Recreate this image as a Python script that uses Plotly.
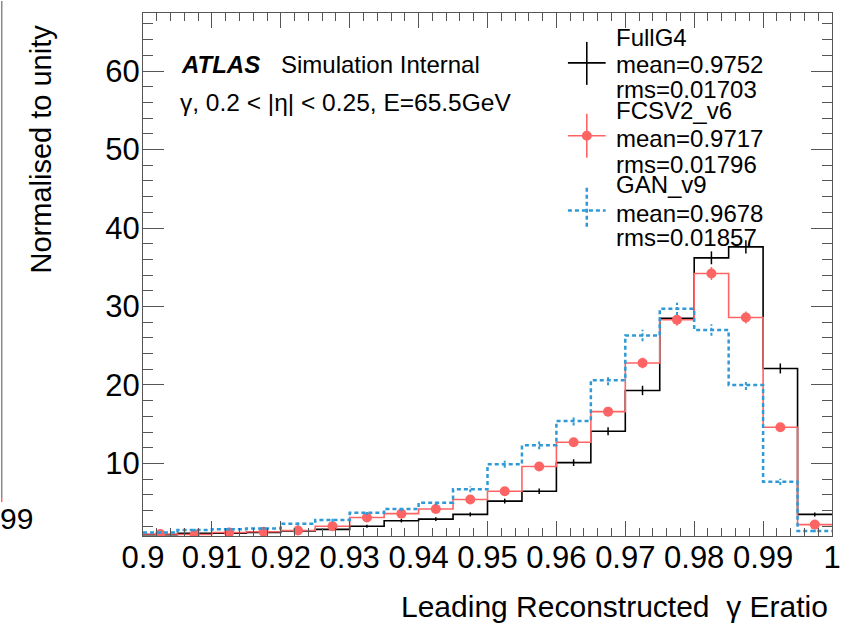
import plotly.graph_objects as go

# ---------------- data ----------------
bin_lo, bin_hi, n_bins = 0.9, 1.0, 20
x_tick_vals = [0.9, 0.91, 0.92, 0.93, 0.94, 0.95, 0.96, 0.97, 0.98, 0.99, 1.0]
x_tick_text = ["0.9", "0.91", "0.92", "0.93", "0.94", "0.95", "0.96", "0.97", "0.98", "0.99", "1"]
y_tick_vals = [10, 20, 30, 40, 50, 60]

fullg4_vals = [0.9, 1.1, 1.1, 1.2, 1.4, 1.6, 2.0, 2.7, 2.9, 3.5,
               5.2, 6.45, 10.1, 14.1, 19.3, 28.5, 36.2, 37.6, 22.1, 3.5]
fullg4_err = [0.12, 0.14, 0.14, 0.15, 0.16, 0.17, 0.19, 0.22, 0.23, 0.26,
              0.31, 0.35, 0.43, 0.5, 0.6, 0.72, 0.82, 0.84, 0.64, 0.26]

fcsv2_vals = [1.0, 0.95, 1.2, 1.3, 1.45, 2.0, 3.1, 3.6, 4.2, 5.4,
              6.45, 9.6, 12.7, 16.6, 22.8, 28.3, 34.2, 28.6, 14.6, 2.2]
fcsv2_err = [0.14, 0.14, 0.15, 0.16, 0.17, 0.2, 0.25, 0.27, 0.29, 0.33,
             0.36, 0.44, 0.5, 0.58, 0.68, 0.76, 0.83, 0.76, 0.54, 0.21]

gan_vals = [1.2, 1.5, 1.6, 1.7, 2.3, 2.8, 3.7, 4.2, 5.0, 6.7,
            9.9, 12.3, 15.4, 20.6, 26.3, 29.7, 27.0, 20.0, 7.65, 1.4]
gan_err = [0.15, 0.17, 0.18, 0.18, 0.21, 0.24, 0.27, 0.29, 0.32, 0.37,
           0.45, 0.5, 0.56, 0.65, 0.73, 0.78, 0.74, 0.64, 0.39, 0.17]

legend_entries = [
    ("FullG4", "mean=0.9752", "rms=0.01703"),
    ("FCSV2_v6", "mean=0.9717", "rms=0.01796"),
    ("GAN_v9", "mean=0.9678", "rms=0.01857"),
]

# ---------------- styles ----------------
BLACK = "#000000"
RED = "#ff6464"
BLUE = "#2f9ad6"
FONT = "Liberation Sans, Arial, Helvetica, sans-serif"
W, H = 853, 626
L, R, T, B = 143, 16, 12, 90
PW, PH = W - L - R, H - T - B


def px2x(px):
    return (px - L) / PW


def py2y(py):
    return (H - B - py) / PH


edges = [bin_lo + i * (bin_hi - bin_lo) / n_bins for i in range(n_bins + 1)]
centers = [(edges[i] + edges[i + 1]) / 2 for i in range(n_bins)]

fig = go.Figure()

# FullG4 (black)
fig.add_trace(go.Scatter(x=edges, y=fullg4_vals + [fullg4_vals[-1]], mode="lines",
                         line=dict(color=BLACK, width=1.6, shape="hv"), showlegend=False))
fig.add_trace(go.Scatter(x=centers, y=fullg4_vals, mode="markers",
                         marker=dict(size=1, color=BLACK),
                         error_y=dict(type="data", array=fullg4_err, color=BLACK, thickness=1.5, width=0),
                         showlegend=False))

# FCSV2 (red)
fig.add_trace(go.Scatter(x=edges, y=fcsv2_vals + [fcsv2_vals[-1]], mode="lines",
                         line=dict(color=RED, width=1.6, shape="hv"), showlegend=False))
fig.add_trace(go.Scatter(x=centers, y=fcsv2_vals, mode="markers",
                         marker=dict(size=10, color=RED),
                         error_y=dict(type="data", array=fcsv2_err, color=RED, thickness=1.5, width=0),
                         showlegend=False))

# GAN (blue dotted)
fig.add_trace(go.Scatter(x=edges, y=gan_vals + [gan_vals[-1]], mode="lines",
                         line=dict(color=BLUE, width=2.5, shape="hv", dash="4px,3px"), showlegend=False))
ex, ey = [], []
for c, v, e in zip(centers, gan_vals, gan_err):
    ex += [c, c, None]
    ey += [v - e, v + e, None]
fig.add_trace(go.Scatter(x=ex, y=ey, mode="lines",
                         line=dict(color=BLUE, width=2, dash="3px,2px"), showlegend=False))

shapes = []
annotations = []

# legend symbols
sym_rows = [(62, 41, 84, BLACK, None), (135, 113, 157, RED, None), (210, 187, 228, BLUE, "4px,3px")]
for cy, vy0, vy1, col, dash in sym_rows:
    lw = 2.5 if dash else 1.6
    ln = dict(color=col, width=lw, dash=dash) if dash else dict(color=col, width=lw)
    shapes.append(dict(type="line", xref="paper", yref="paper",
                       x0=px2x(571), x1=px2x(609), y0=py2y(cy), y1=py2y(cy), line=ln))
    shapes.append(dict(type="line", xref="paper", yref="paper",
                       x0=px2x(590), x1=px2x(590), y0=py2y(vy0), y1=py2y(vy1), line=ln))
shapes.append(dict(type="circle", xref="paper", yref="paper",
                   x0=px2x(585), x1=px2x(595), y0=py2y(130), y1=py2y(140),
                   fillcolor=RED, line=dict(color=RED, width=0)))

# legend texts
text_rows = [37, 64, 88.5, 109.5, 137.5, 164, 183.5, 212.5, 236.5]
flat_text = [t for entry in legend_entries for t in entry]
for txt, cy in zip(flat_text, text_rows):
    annotations.append(dict(text=txt, xref="paper", yref="paper", x=px2x(617), y=py2y(cy),
                            xanchor="left", yanchor="middle", showarrow=False,
                            font=dict(family=FONT, size=24, color="black")))

# ATLAS label
annotations.append(dict(text="<b><i>ATLAS</i></b>", xref="paper", yref="paper", x=px2x(179), y=py2y(64),
                        xanchor="left", yanchor="middle", showarrow=False,
                        font=dict(family=FONT, size=24, color="black")))
annotations.append(dict(text="Simulation Internal", xref="paper", yref="paper", x=px2x(280), y=py2y(64),
                        xanchor="left", yanchor="middle", showarrow=False,
                        font=dict(family=FONT, size=24, color="black")))
annotations.append(dict(text="γ, 0.2 < |η| < 0.25, E=65.5GeV", xref="paper", yref="paper",
                        x=px2x(178), y=py2y(102), xanchor="left", yanchor="middle", showarrow=False,
                        font=dict(family=FONT, size=24.5, color="black")))

# axis titles
annotations.append(dict(text="Leading Reconstructed  γ Eratio", xref="paper", yref="paper",
                        x=px2x(835), y=py2y(607), xanchor="right", yanchor="middle", showarrow=False,
                        font=dict(family=FONT, size=30, color="black")))
annotations.append(dict(text="Normalised to unity", xref="paper", yref="paper", textangle=-90,
                        x=px2x(40), y=py2y(148), xanchor="center", yanchor="middle", showarrow=False,
                        font=dict(family=FONT, size=29, color="black")))

# cropped neighbour-pad remnant on the far left
shapes.append(dict(type="line", xref="paper", yref="paper", x0=px2x(0.7), x1=px2x(0.7),
                   y0=py2y(0), y1=py2y(498), line=dict(color="#888888", width=1.5)))
shapes.append(dict(type="line", xref="paper", yref="paper", x0=px2x(0.7), x1=px2x(0.7),
                   y0=py2y(498), y1=py2y(502), line=dict(color=RED, width=1.5)))
annotations.append(dict(text="99", xref="paper", yref="paper", x=px2x(-3), y=py2y(518),
                        xanchor="left", yanchor="middle", showarrow=False,
                        font=dict(family=FONT, size=30, color="black")))

axis_common = dict(showgrid=False, zeroline=False, showline=True, linecolor="#555555", linewidth=1,
                   mirror="allticks", ticks="inside", tickcolor="#555555", tickwidth=1,
                   tickfont=dict(family=FONT, size=31, color="black"))

fig.update_layout(
    width=W, height=H,
    margin=dict(l=L, r=R, t=T, b=B),
    paper_bgcolor="white", plot_bgcolor="white",
    showlegend=False,
    shapes=shapes, annotations=annotations,
    xaxis=dict(range=[bin_lo, bin_hi], tickvals=x_tick_vals, ticktext=x_tick_text, ticklen=15,
               ticklabelstandoff=-6,
               minor=dict(dtick=0.002, ticks="inside", ticklen=8, tickcolor="#555555", tickwidth=1, showgrid=False),
               **axis_common),
    yaxis=dict(range=[0.75, 67.4], tickvals=y_tick_vals, ticklen=21, ticklabelstandoff=-4,
               minor=dict(dtick=2, tick0=0, ticks="inside", ticklen=10, tickcolor="#555555", tickwidth=1, showgrid=False),
               **axis_common),
)

fig.write_html("out.html")
